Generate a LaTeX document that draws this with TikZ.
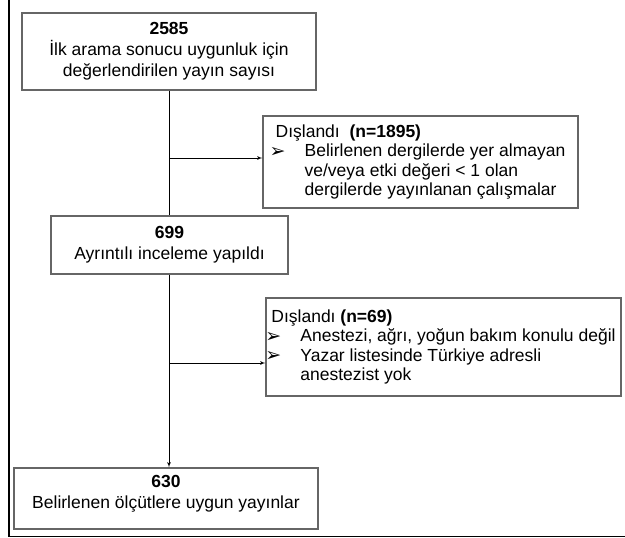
\documentclass[tikz,border=0pt]{standalone}
\usepackage{fontspec}
\setmainfont{Liberation Sans}
\newfontfamily\symfont{DejaVu Sans}
\usetikzlibrary{arrows}
\newcommand{\bul}{\makebox[29pt][l]{\hspace*{-6pt}\raisebox{-0.5pt}{\symfont\fontsize{19}{19}\selectfont ➢}}}

\begin{document}
\begin{tikzpicture}[x=1pt,y=-1pt]

\tikzset{box/.style = {shape=rectangle,draw=black!60,line width=1.3pt,inner sep=4pt,align=center,font=\fontsize{17.5}{21}\selectfont}}
\tikzset{outbox/.style = {box,align=left,font=\fontsize{17.5}{19.6}\selectfont}}
\tikzset{edge/.style = {->,> = latex',line width=0.8pt}}

\useasboundingbox (0,0) rectangle (625,538);
%frame
\draw[line width=1.2pt] (9,0) -- (9,536.5) -- (625,536.5);
%boxes
\node[box, minimum width=294pt, minimum height=77pt] (2585) at (169,51.5) {\textbf{2585}\\İlk arama sonucu uygunluk için\\değerlendirilen yayın sayısı};
\node[outbox, minimum width=315pt, minimum height=92pt] (1895) at (420.5,162) {Dışlandı~~\textbf{(n=1895)}\\\bul Belirlenen dergilerde yer almayan\\\hspace*{29pt}ve/veya etki değeri < 1 olan\\\hspace*{29pt}dergilerde yayınlanan çalışmalar};
\node[box, minimum width=237pt, minimum height=58pt] (699) at (169.5,245) {\textbf{699}\\Ayrıntılı inceleme yapıldı};
\node[outbox, minimum width=355pt, minimum height=98pt] (69) at (443.5,347) {Dışlandı \textbf{(n=69)}\\\bul Anestezi, ağrı, yoğun bakım konulu değil\\\bul Yazar listesinde Türkiye adresli\\\hspace*{29pt}anestezist yok};
\node[box, minimum width=304pt, text height=36pt, text depth=17pt] (630) at (166,498.5) {\textbf{630}\\Belirlenen ölçütlere uygun yayınlar};
%edges
\coordinate (b1) at (169,158);
\coordinate (b2) at (169,363);
\draw [line width=0.8pt] (2585.south -| b1) -- (699.north -| b1);
\draw [edge] (699.south -| b1) -- (630.north -| b1);
\draw [edge] (b1) -- (b1 -| 1895.west);
\draw [edge] (b2) -- (b2 -| 69.west);

\end{tikzpicture}
\end{document}
